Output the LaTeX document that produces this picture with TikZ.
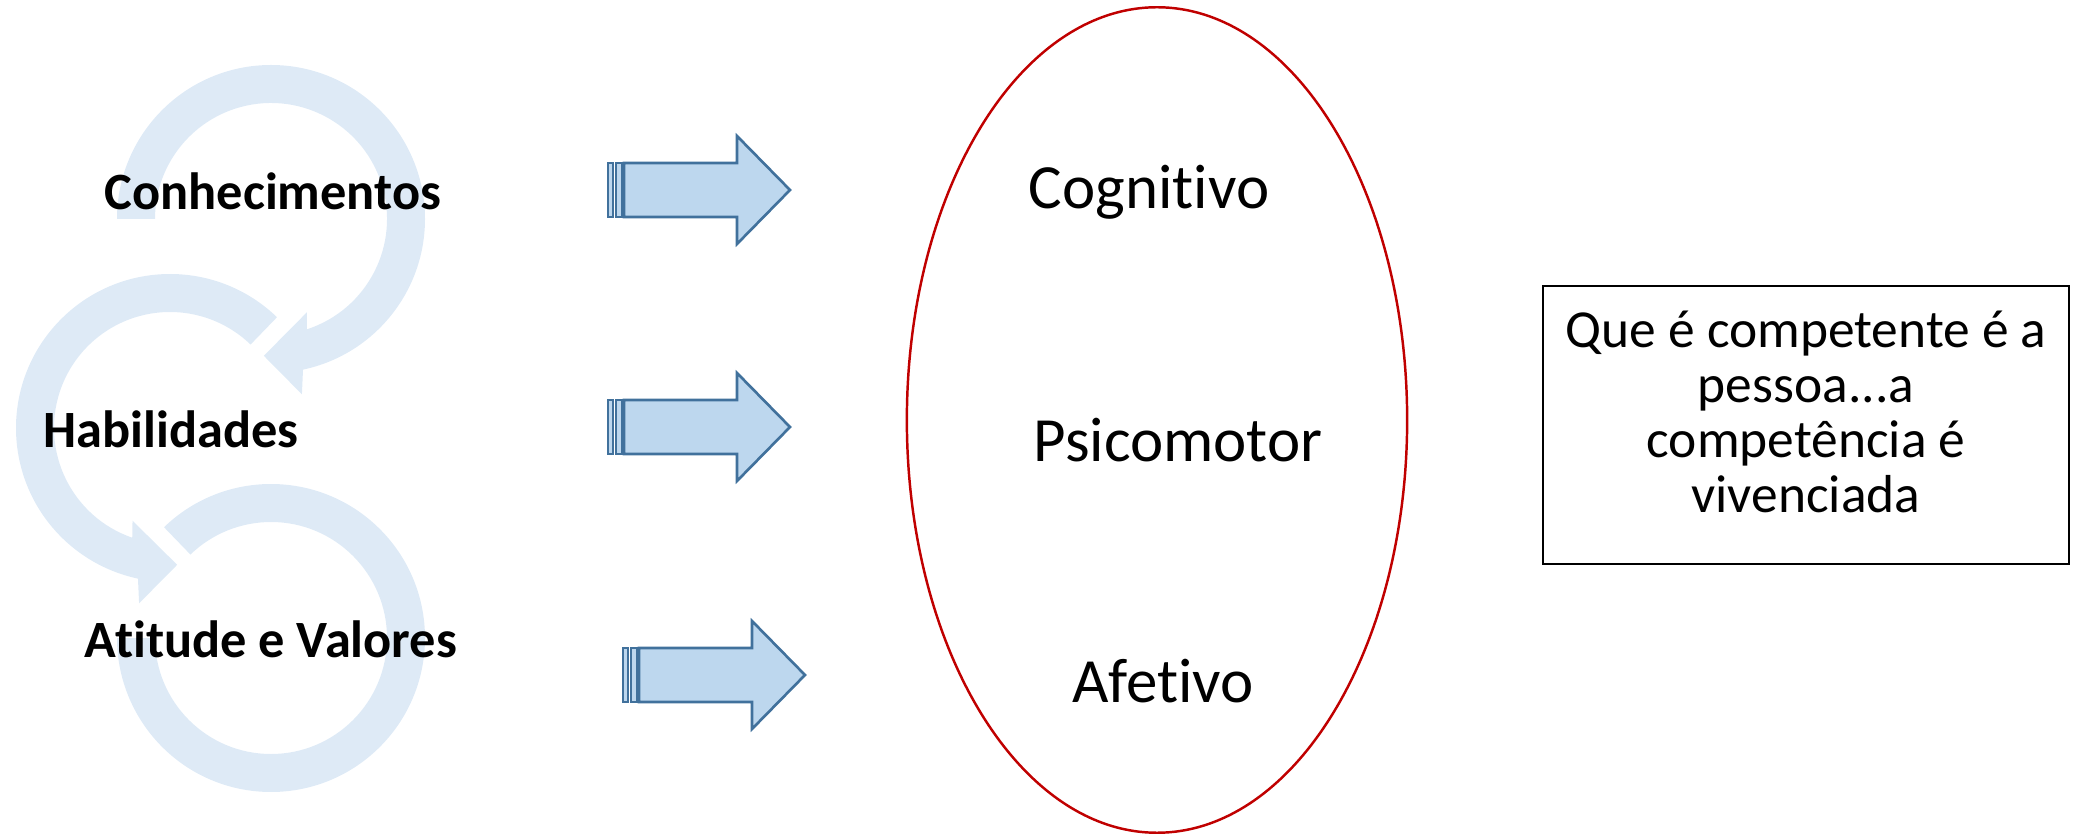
\documentclass[tikz,border=0pt]{standalone}
\usepackage{fontspec}
\setmainfont{Carlito}[Ligatures={NoCommon}]
\usepackage{tikz}
\usetikzlibrary{shapes.geometric}
\definecolor{ringblue}{RGB}{222,234,246}
\definecolor{arrowfill}{RGB}{189,215,238}
\definecolor{arrowline}{RGB}{65,113,156}
\definecolor{ovalred}{RGB}{192,0,0}

\begin{document}
\begin{tikzpicture}[x=0.01cm, y=0.01cm,
        ring/.style={fill=ringblue},
        barrow/.style={fill=arrowfill, draw=arrowline, line width=0.75pt, line join=miter},
        label/.style={anchor=base, font=\fontsize{14.9}{17}\selectfont\bfseries},
        area/.style={anchor=base, font=\fontsize{17.9}{21}\selectfont}]
        \useasboundingbox (0,0) rectangle (2085,833);

        % circular arrows
        \begin{scope}[shift={(271,614)}]
            \fill[ring] (180:154) arc[start angle=180, end angle=-78, radius=154] -- (-80:178) -- (-93:137)
                -- (-69:100) -- (-72:116) arc[start angle=-72, end angle=180, radius=116] -- cycle;
        \end{scope}
        \begin{scope}[shift={(170,405)}]
            \fill[ring] (46:154) arc[start angle=46, end angle=258, radius=154] -- (260:178) -- (273:137)
                -- (248:100) -- (251:116) arc[start angle=251, end angle=46, radius=116] -- cycle;
        \end{scope}
        \begin{scope}[shift={(271,195)}]
            \fill[ring] (134:154) arc[start angle=134, end angle=-180, radius=154]
                -- (180:116) arc[start angle=-180, end angle=134, radius=116] -- cycle;
        \end{scope}

        \node[label] (conh) at (273,623) {Conhecimentos};
        \node[label] (habil) at (171,386) {Habilidades};
        \node[label] (atit) at (271,176) {Atitude e Valores};

        % block arrows
        \foreach \x/\y in {608/643, 608/406, 623/158} {
            \draw[barrow] (\x,\y-27) rectangle ++(5,54);
            \draw[barrow] (\x+8,\y-27) rectangle ++(6,54);
            \draw[barrow] (\x+16,\y-27) -- ++(113,0) -- ++(0,-27) -- ++(53,54) -- ++(-53,54)
                -- ++(0,-27) -- ++(-113,0) -- cycle;
        }

        \node[ellipse, draw=ovalred, line width=0.7pt, inner sep=0pt, minimum width=5cm, minimum height=8.25cm] (dominio) at (1157,413) {};
        \node[area] (cogn) at (1149,624) {Cognitivo};
        \node[area] (psico) at (1178,371) {Psicomotor};
        \node[area] (afet) at (1163,131) {Afetivo};

        \node[draw, line width=0.6pt, minimum width=5.26cm, minimum height=2.78cm] (nota) at (1806,408) {};
        \node[align=center, font=\fontsize{15.2}{15.65}\selectfont] (notatexto) at (1806,421)
            {Que é competente é a\\pessoa...a\\competência é\\vivenciada};
\end{tikzpicture}
\end{document}
